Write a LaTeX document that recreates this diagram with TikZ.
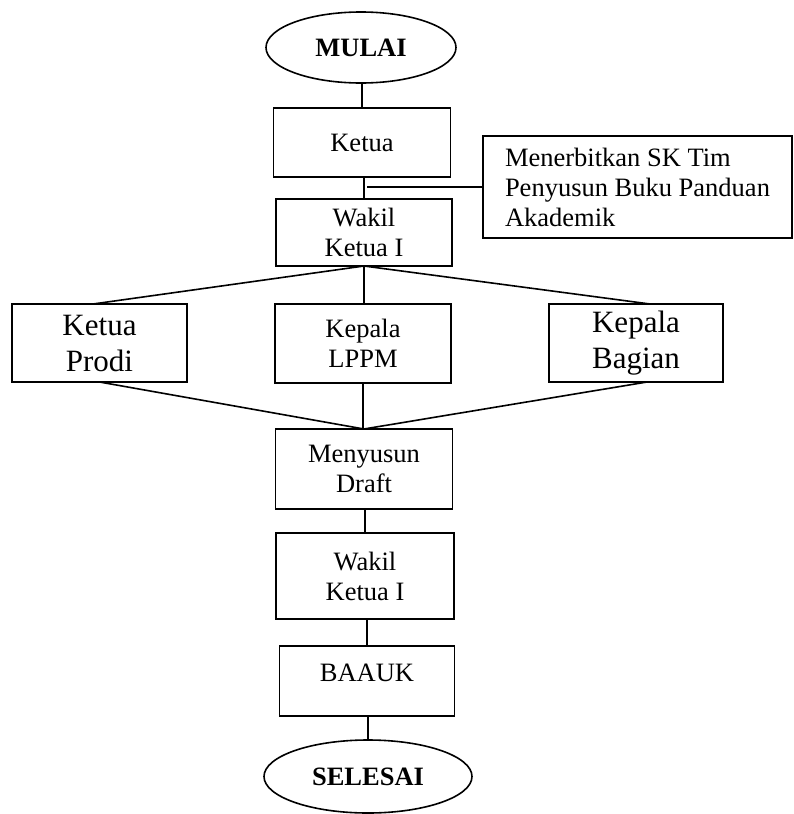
\documentclass[tikz,border=0pt]{standalone}
\usepackage{fontspec}
\setmainfont{Liberation Serif}
\usetikzlibrary{shapes.geometric}
\begin{document}
\begin{tikzpicture}[x=1pt,y=-1pt,
  every node/.style={inner sep=0pt, outer sep=0pt},
  flow/.style={draw, line width=1.6pt, rectangle, align=center,
    font=\fontsize{26.5}{30}\selectfont},
  bigflow/.style={flow, font=\fontsize{31}{36}\selectfont},
  terminal/.style={draw, line width=1.6pt, ellipse,
    font=\fontsize{26.5}{30}\selectfont\bfseries},
  link/.style={line width=1.6pt}]
\useasboundingbox (0,0) rectangle (793,814);

% start / end
\node[terminal, minimum width=190pt, minimum height=71pt] (mulai) at (361,47.5) {MULAI};
\node[terminal, minimum width=208pt, minimum height=73pt] (selesai) at (368,776.5) {SELESAI};

% main column
\node[flow, minimum width=177pt, minimum height=69pt] (ketua) at (362,142.5) {Ketua};
\node[flow, minimum width=176pt, minimum height=67pt] (wakil1) at (364,232.5) {Wakil\\Ketua I};
\node[flow, minimum width=176pt, minimum height=79pt] (lppm) at (363,343.5) {Kepala\\LPPM};
\node[flow, minimum width=177pt, minimum height=80pt] (menyusun) at (364,469) {Menyusun\\Draft};
\node[flow, minimum width=178pt, minimum height=86pt] (wakil2) at (365,576) {Wakil\\Ketua I};
\node[flow, minimum width=175pt, minimum height=70pt] (baauk) at (367,681) {};
\node[font=\fontsize{26.5}{30}\selectfont] (baauktext) at ([yshift=8pt]baauk.center) {BAAUK};

% side branches
\node[bigflow, minimum width=175pt, minimum height=78pt] (prodi) at (99.5,343) {Ketua\\Prodi};
\node[bigflow, minimum width=174pt, minimum height=78pt] (bagian) at (636,343) {Kepala\\Bagian};

% note box
\node[flow, align=left, minimum width=309pt, minimum height=102pt] (sk) at (637.5,187)
  {Menerbitkan SK Tim\\Penyusun Buku Panduan\\Akademik};

% connectors
\draw[link] (ketua.north) -- (ketua.north |- mulai.south);
\draw[link] (wakil1.north) -- (wakil1.north |- ketua.south);
\coordinate (tap) at (367,187);
\draw[link] (tap) -- (tap -| sk.west);

\draw[link] (wakil1.south) -- ([xshift=-6.5pt]prodi.north);
\draw[link] (wakil1.south) -- (wakil1.south |- lppm.north);
\draw[link] (wakil1.south) -- ([xshift=14pt]bagian.north);

\draw[link] (prodi.south) -- (menyusun.north);
\draw[link] (lppm.south) -- (lppm.south |- menyusun.north);
\draw[link] ([xshift=11pt]bagian.south) -- (menyusun.north);

\draw[link] (wakil2.north) -- (wakil2.north |- menyusun.south);
\draw[link] (baauk.north) -- (baauk.north |- wakil2.south);
\draw[link] (selesai.north) -- (selesai.north |- baauk.south);
\end{tikzpicture}
\end{document}
